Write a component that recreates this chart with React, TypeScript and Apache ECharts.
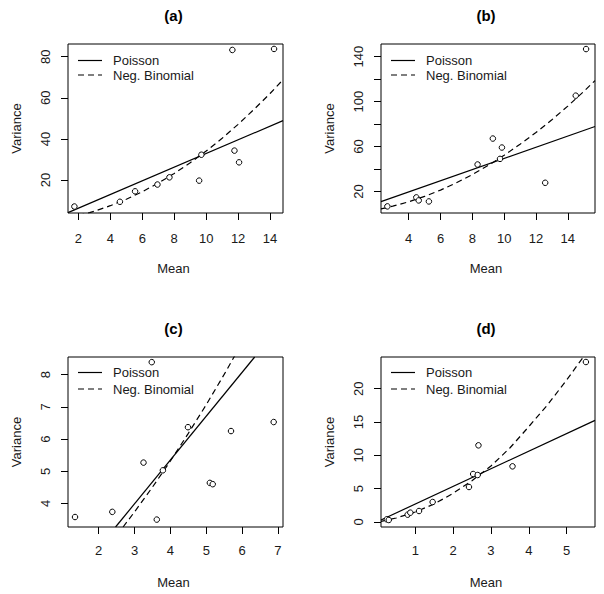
import React, { useEffect, useRef } from "react";
import * as echarts from "echarts";

// ---------- Panel (a) ----------
const meanA = [1.75, 4.6, 5.55, 6.95, 7.7, 9.56, 9.7, 11.64, 11.77, 12.06, 14.25];
const varA = [7.1, 9.4, 14.5, 17.8, 21.3, 19.7, 32.3, 83.3, 34.3, 28.6, 83.8];
const poisMeanA = [1.35, 14.81];
const poisVarA = [4.1, 48.9];
const nbMeanA = [2.0, 2.7, 3, 4, 5, 6, 7, 8, 9, 10, 11, 12, 13, 14, 14.81];
const nbVarA = [2.7, 4.1, 4.8, 7.5, 10.6, 14.3, 18.5, 23.2, 28.4, 34.1, 40.3, 47.1, 54.4, 62.1, 68.8];
const xTicksA = [2, 4, 6, 8, 10, 12, 14];
const yTicksA = [20, 40, 60, 80];
const yLabelsA = [20, 40, 60, 80];

// ---------- Panel (b) ----------
const meanB = [2.66, 4.48, 4.63, 5.27, 8.33, 9.29, 9.74, 9.86, 12.58, 14.5, 15.15];
const varB = [6.7, 14.7, 12.0, 11.1, 44.0, 67.1, 49.0, 59.1, 27.7, 105.3, 146.8];
const poisMeanB = [2.26, 15.71];
const poisVarB = [10.9, 77.8];
const nbMeanB = [2.26, 3, 4, 5, 6, 7, 8, 9, 10, 11, 12, 13, 14, 15, 15.71];
const nbVarB = [4.4, 6.9, 10.8, 15.6, 21.2, 27.7, 35.0, 43.2, 52.2, 62.0, 72.5, 83.8, 96.0, 109.0, 118.7];
const xTicksB = [4, 6, 8, 10, 12, 14];
const yTicksB = [20, 40, 60, 80, 100, 120, 140];
const yLabelsB = [20, 60, 100, 140];

// ---------- Panel (c) ----------
const meanC = [1.34, 2.38, 3.25, 3.48, 3.62, 3.79, 4.49, 5.1, 5.18, 5.69, 6.88];
const varC = [3.58, 3.74, 5.27, 8.39, 3.5, 5.03, 6.37, 4.64, 4.6, 6.25, 6.53];
const poisMeanC = [2.47, 6.35];
const poisVarC = [3.27, 8.55];
const nbMeanC = [2.68, 3, 3.5, 4, 4.5, 5, 5.5, 5.8];
const nbVarC = [3.27, 3.74, 4.51, 5.32, 6.18, 7.07, 8.01, 8.6];
const xTicksC = [2, 3, 4, 5, 6, 7];
const yTicksC = [4, 5, 6, 7, 8];
const yLabelsC = [4, 5, 6, 7, 8];

// ---------- Panel (d) ----------
const meanD = [0.25, 0.3, 0.8, 0.87, 1.1, 1.46, 2.42, 2.53, 2.65, 2.67, 3.57, 5.51];
const varD = [0.4, 0.3, 1.1, 1.4, 1.65, 3.0, 5.25, 7.2, 7.05, 11.5, 8.35, 24.0];
const poisMeanD = [0.095, 5.75];
const poisVarD = [0.3, 15.25];
const nbMeanD = [0.095, 0.5, 1, 1.5, 2, 2.5, 3, 3.5, 4, 4.5, 5, 5.5, 5.75];
const nbVarD = [0.1, 0.6, 1.5, 2.7, 4.3, 6.2, 8.4, 11.1, 14.3, 17.6, 21.3, 25.2, 27.2];
const xTicksD = [1, 2, 3, 4, 5];
const yTicksD = [0, 5, 10, 15, 20];
const yLabelsD = [0, 5, 10, 15, 20];

const titles = ["(a)", "(b)", "(c)", "(d)"];
const legendNames = ["Poisson", "Neg. Binomial"];

const FONT = '"Liberation Sans", Arial, Helvetica, sans-serif';
const TXT = "#1a1a1a";
const DASH = [6, 4];

const zip = (xs: number[], ys: number[]) => xs.map((x, i) => [x, ys[i]]);

const panels = [
  {
    grid: { left: 68, top: 44, width: 215, height: 169 },
    xr: [1.35, 14.81], yr: [3.94, 86.2],
    xt: xTicksA, yt: yTicksA, yl: yLabelsA,
    pts: zip(meanA, varA), pois: zip(poisMeanA, poisVarA), nb: zip(nbMeanA, nbVarA),
    xm: 19,
  },
  {
    grid: { left: 381, top: 44, width: 214, height: 169 },
    xr: [2.26, 15.71], yr: [0.8, 151.3],
    xt: xTicksB, yt: yTicksB, yl: yLabelsB,
    pts: zip(meanB, varB), pois: zip(poisMeanB, poisVarB), nb: zip(nbMeanB, nbVarB),
    xm: 19,
  },
  {
    grid: { left: 68, top: 357, width: 215, height: 170 },
    xr: [1.144, 7.14], yr: [3.27, 8.55],
    xt: xTicksC, yt: yTicksC, yl: yLabelsC,
    pts: zip(meanC, varC), pois: zip(poisMeanC, poisVarC), nb: zip(nbMeanC, nbVarC),
    xm: 17,
  },
  {
    grid: { left: 381, top: 357, width: 214, height: 170 },
    xr: [0.095, 5.75], yr: [-0.75, 24.75],
    xt: xTicksD, yt: yTicksD, yl: yLabelsD,
    pts: zip(meanD, varD), pois: zip(poisMeanD, poisVarD), nb: zip(nbMeanD, nbVarD),
    xm: 17,
  },
];

function buildOption() {
  const grids: any[] = [];
  const xAxes: any[] = [];
  const yAxes: any[] = [];
  const series: any[] = [];
  const graphic: any[] = [];

  panels.forEach((p, i) => {
    grids.push({
      ...p.grid,
      show: true,
      borderColor: "#000",
      borderWidth: 1,
      backgroundColor: "transparent",
      containLabel: false,
    });
    const axisCommon = {
      type: "value",
      gridIndex: i,
      splitLine: { show: false },
      axisLine: { show: false, onZero: false },
    };
    xAxes.push({
      ...axisCommon,
      min: p.xr[0],
      max: p.xr[1],
      axisTick: { show: true, inside: false, length: 7, lineStyle: { color: "#000" }, customValues: p.xt },
      axisLabel: {
        customValues: p.xt,
        margin: p.xm,
        color: TXT,
        fontSize: 13,
        fontFamily: FONT,
        showMinLabel: true,
        showMaxLabel: true,
        hideOverlap: false,
      },
    });
    yAxes.push({
      ...axisCommon,
      min: p.yr[0],
      max: p.yr[1],
      axisTick: { show: true, inside: false, length: 7, lineStyle: { color: "#000" }, customValues: p.yt },
      axisLabel: {
        customValues: p.yl,
        rotate: 90,
        margin: 16,
        color: TXT,
        fontSize: 13,
        fontFamily: FONT,
        showMinLabel: true,
        showMaxLabel: true,
        hideOverlap: false,
      },
    });
    series.push({
      type: "line",
      name: legendNames[0],
      xAxisIndex: i,
      yAxisIndex: i,
      data: p.pois,
      symbol: "none",
      showSymbol: false,
      clip: true,
      silent: true,
      lineStyle: { color: "#000", width: 1.2, type: "solid" },
      z: 2,
    });
    series.push({
      type: "line",
      name: legendNames[1],
      xAxisIndex: i,
      yAxisIndex: i,
      data: p.nb,
      symbol: "none",
      showSymbol: false,
      clip: true,
      silent: true,
      lineStyle: { color: "#000", width: 1.2, type: DASH },
      z: 2,
    });
    series.push({
      type: "scatter",
      xAxisIndex: i,
      yAxisIndex: i,
      data: p.pts,
      symbol: "circle",
      symbolSize: 5.5,
      clip: true,
      silent: true,
      itemStyle: { color: "#fff", borderColor: "#000", borderWidth: 1, opacity: 1 },
      z: 3,
    });

    const g = p.grid;
    const cx = g.left + g.width / 2;
    graphic.push({
      type: "text",
      x: cx - 2,
      y: g.top - 29,
      style: {
        text: titles[i],
        fill: "#000",
        fontSize: 15,
        fontWeight: "bold",
        fontFamily: FONT,
        align: "center",
        verticalAlign: "middle",
        textAlign: "center",
        textVerticalAlign: "middle",
      },
    });
    graphic.push({
      type: "text",
      x: cx - 2,
      y: g.top + g.height + 55,
      style: {
        text: "Mean",
        fill: TXT,
        fontSize: 13,
        fontFamily: FONT,
        align: "center",
        verticalAlign: "middle",
        textAlign: "center",
        textVerticalAlign: "middle",
      },
    });
    graphic.push({
      type: "text",
      x: g.left - 52,
      y: g.top + g.height / 2,
      rotation: Math.PI / 2,
      style: {
        text: "Variance",
        fill: TXT,
        fontSize: 13,
        fontFamily: FONT,
        align: "center",
        verticalAlign: "middle",
        textAlign: "center",
        textVerticalAlign: "middle",
      },
    });
    const ly1 = g.top + (i < 2 ? 16.5 : 15.5);
    const ly2 = g.top + (i < 2 ? 31 : 32);
    const lx = g.left + 10;
    [ly1, ly2].forEach((ly, k) => {
      graphic.push({
        type: "line",
        shape: { x1: lx, y1: ly, x2: lx + 24, y2: ly },
        style: { stroke: "#000", lineWidth: 1.2, lineDash: k === 0 ? null : DASH },
      });
      graphic.push({
        type: "text",
        x: lx + 35,
        y: ly,
        style: {
          text: legendNames[k],
          fill: TXT,
          fontSize: 13,
          fontFamily: FONT,
          align: "left",
          verticalAlign: "middle",
          textAlign: "left",
          textVerticalAlign: "middle",
        },
      });
    });
  });

  return {
    animation: false,
    backgroundColor: "#fff",
    grid: grids,
    xAxis: xAxes,
    yAxis: yAxes,
    series,
    graphic,
  };
}

export default function App() {
  const ref = useRef<HTMLDivElement>(null);
  useEffect(() => {
    document.body.style.margin = "0";
    const chart = echarts.init(ref.current as HTMLDivElement, null, { renderer: "svg" });
    chart.setOption(buildOption() as any);
    return () => chart.dispose();
  }, []);
  return <div ref={ref} style={{ width: 604, height: 594 }} />;
}
